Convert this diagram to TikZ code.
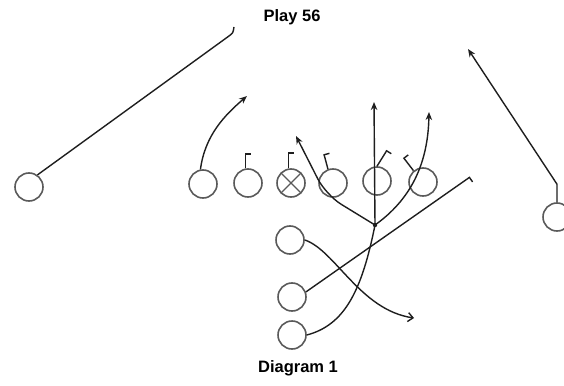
\documentclass[tikz,border=0pt]{standalone}
\usepackage{fontspec}
\setmainfont{Liberation Sans}
\usetikzlibrary{arrows.meta}
\usetikzlibrary{positioning}
\definecolor{ink}{RGB}{30,30,30}
\definecolor{ring}{RGB}{90,90,90}
\tikzset{
  player/.style={circle, draw=ring, line width=1.6pt, minimum size=28pt, inner sep=0pt},
  center man/.style={player, path picture={
      \draw[ring, line width=1.3pt]
        (path picture bounding box.north west) -- (path picture bounding box.south east)
        (path picture bounding box.south west) -- (path picture bounding box.north east);}},
  route/.style={draw=ink, line width=1.4pt, -{Stealth[length=8pt,width=6.5pt]}},
  open route/.style={draw=ink, line width=1.4pt, -{Straight Barb[length=5pt,width=9pt]}},
  block/.style={draw=ink, line width=1.4pt, -{Bar[width=11pt,right]}},
  plain route/.style={draw=ink, line width=1.4pt},
  heading/.style={font=\bfseries\fontsize{16.5}{19}\selectfont, inner sep=0pt}
}

\begin{document}
\begin{tikzpicture}[x=1pt, y=-1pt]
    \useasboundingbox (0,0) rectangle (564,385);

    \node[heading] (title) at (292,17) {Play 56};
    \node[heading] (caption) at (298,368) {Diagram 1};

    % line
    \node[player] (lwr) at (29,187) {};
    \node[player] (lt) at (203,184) {};
    \node[player] (lg) at (248,183) {};
    \node[center man] (c) at (291,183) {};
    \node[player] (rg) at (333,183) {};
    \node[player] (rt) at (377,181) {};
    \node[player] (te) at (423,182) {};
    \node[player] (rwr) at (557,217) {};

    % backs
    \node[player] (b1) at (290,240) {};
    \node[player] (b2) at (292,297) {};
    \node[player] (b3) at (292,335) {};

    \coordinate (qb) at (375,225);
    \fill[ink] (qb) circle (2.2pt);

    % wide outs
    \draw[plain route] (lwr.55) -- (229,36) .. controls (233,33) .. (234,27);
    \draw[route] (rwr.north) -- ++(0,-18) -- (468,49);
    \draw[route] (lt.100) .. controls (205,135) and (225,115) .. (247,96);

    % blocks
    \draw[block] (lg.100) -- ++(0,-15);
    \draw[block] (c.100) -- ++(0,-16);
    \draw[block] (rg.110) -- ++(-4,-15);
    \draw[block] (rt.north) -- ++(10,-16);
    \draw[block] (te.130) -- ++(-10,-13);

    % out of the backfield
    \draw[route, rounded corners=18pt] (qb) -- (326,195) -- (296,136);
    \draw[route] (qb) -- (374,102);
    \draw[route] (qb) .. controls (410,200) and (428,165) .. (429,112);
    \draw[plain route] (b3.east) .. controls (345,325) and (362,290) .. (qb);
    \draw[open route] (b1.east) .. controls (335,250) and (360,310) .. (414,318);
    \draw[block] (b2.20) -- (470,177);
\end{tikzpicture}
\end{document}
